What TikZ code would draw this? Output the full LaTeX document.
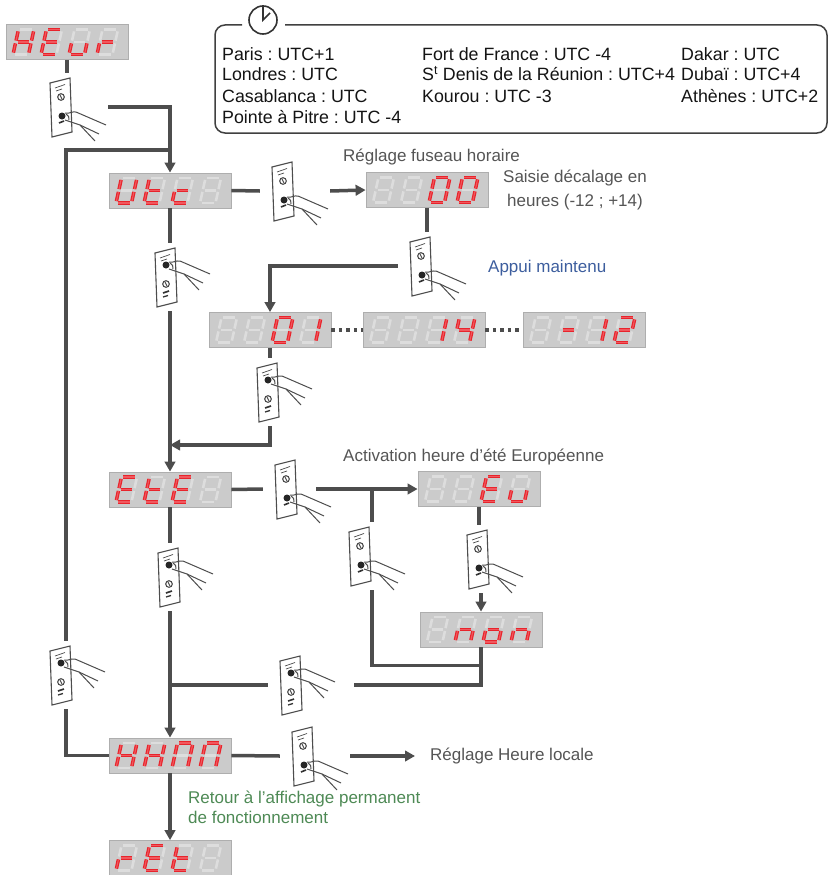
\documentclass[tikz,border=0pt]{standalone}
\usepackage{fontspec}
\setmainfont{Liberation Sans}
\usetikzlibrary{arrows.meta,calc}
\frenchspacing
\definecolor{ln}{HTML}{4D4D4D}
\definecolor{segred}{HTML}{E8242C}
\definecolor{segpink}{HTML}{F0585E}
\definecolor{boxg}{HTML}{CBCBCB}
\definecolor{boxb}{HTML}{AEAEAE}
\definecolor{segg}{HTML}{DDDDDD}
\definecolor{annot}{HTML}{555555}
\definecolor{blu}{HTML}{3D5E9E}
\definecolor{grn}{HTML}{4E8A55}
\tikzset{
 conn/.style={draw=ln, line width=3.5pt},
 arr/.style={conn, -{Triangle[length=10pt,width=10.5pt]}},
 dispbox/.style={draw=boxb, fill=boxg, line width=0.8pt, minimum width=122pt, minimum height=35pt, inner sep=0pt},
 keybox/.style={minimum width=70pt, minimum height=68pt, inner sep=0pt},
 segon/.style={draw=segred, line width=1.2pt, double=segpink, double distance=1.1pt},
 segoff/.style={draw=segg, line width=2.6pt},
 ann/.style={font=\fontsize{17}{24}\selectfont, text=annot, inner sep=0pt},
 tz/.style={font=\fontsize{17.8}{20.5}\selectfont, text=black!92, inner sep=0pt, anchor=base west},
 thin line/.style={draw=ln, line width=1pt},
}
\newcommand\segA[1]{\draw[#1] (1.9,-25)--(13.6,-25);}
\newcommand\segB[1]{\draw[#1] (15.5,-23.1)--(15.5,-13.9);}
\newcommand\segC[1]{\draw[#1] (15.5,-11.1)--(15.5,-1.9);}
\newcommand\segD[1]{\draw[#1] (1.9,0)--(13.6,0);}
\newcommand\segE[1]{\draw[#1] (0,-11.1)--(0,-1.9);}
\newcommand\segF[1]{\draw[#1] (0,-23.1)--(0,-13.9);}
\newcommand\segG[1]{\draw[#1] (1.9,-12.5)--(13.6,-12.5);}
\newcommand\segN[1]{}
\newcommand\sevdig[3]{%
 \begin{scope}[shift={(#1,#2)},xslant=0.22]
  \foreach \q in {A,B,C,D,E,F,G}{\csname seg\q\endcsname{segoff}}
  \foreach \q in {#3}{\csname seg\q\endcsname{segon}}
 \end{scope}}
\newcommand\disp[7]{%
 \node[dispbox] (#1) at (#2,#3) {};
 \sevdig{#2-54}{#3+12.5}{#4}
 \sevdig{#2-26}{#3+12.5}{#5}
 \sevdig{#2+2}{#3+12.5}{#6}
 \sevdig{#2+30}{#3+12.5}{#7}}
\newcommand\cardbase{%
 \draw[draw=ln, fill=white, line width=1.1pt] (0,5) -- (20,0) -- (22,54) -- (2,59) -- cycle;
 \draw[thin line, line width=0.7pt] (5,10) -- (15,6.5) (6,13) -- (12,11);}
\tikzset{
 enterkey/.pic={
  \cardbase
  \draw[thin line, line width=1.1pt] (11,19) circle (3.3);
  \draw[thin line] (10,17) -- (12,21);
  \fill[black!85] (12,38) circle (3.5);
  \draw[draw=black!80, line width=1.6pt] (9,45) -- (14,43);
  \draw[thin line] (15,35) to[out=-15,in=170] (26,34) -- (56,47);
  \draw[thin line] (15,42) -- (30,47) -- (45,63);
  \draw[thin line] (16,36) to[bend left=40] (19,42);
  \draw[thin line] (30,47) -- (49,56);
 },
 downkey/.pic={
  \cardbase
  \fill[black!85] (11,17) circle (3.5);
  \draw[thin line] (14,14) to[out=-15,in=170] (25,13) -- (55,26);
  \draw[thin line] (14,21) -- (29,26) -- (44,42);
  \draw[thin line] (15,15) to[bend left=40] (18,21);
  \draw[thin line] (29,26) -- (48,35);
  \draw[thin line, line width=1.1pt] (11,36) circle (3.3);
  \draw[thin line] (10,34) -- (12,38);
  \draw[draw=black!80, line width=1.6pt] (8,45) -- (14,43);
  \draw[draw=black!80, line width=1.3pt] (8,49) -- (13,47.5);
 }
}
\begin{document}
\begin{tikzpicture}[x=1pt,y=-1pt]
\fill[white] (0,0) rectangle (830,875);
\useasboundingbox (0,0) rectangle (830,875);

% ---------- time zone box ----------
\draw[draw=black!75, line width=1.5pt, rounded corners=10pt]
  (285,25) -- (827,25) -- (827,133) -- (215,133) -- (215,25) -- (242,25);
\node[circle, draw=black!80, line width=1.6pt, minimum size=28pt, inner sep=0pt] (clk) at (263,20) {};
\draw[draw=black!80, line width=1.6pt] (clk.north) -- (clk.center) -- (270,13);
\node[tz] (p1) at (222,60) {Paris : UTC+1};
\node[tz] (p2) at (222,81) {Londres : UTC};
\node[tz] (p3) at (222,102) {Casablanca : UTC};
\node[tz] (p4) at (222,123) {Pointe à Pitre : UTC -4};
\node[tz] (q1) at (422,60) {Fort de France : UTC -4};
\node[tz] (q2) at (422,81) {S\textsuperscript{t} Denis de la Réunion : UTC+4};
\node[tz] (q3) at (422,102) {Kourou : UTC -3};
\node[tz] (r1) at (681,60) {Dakar : UTC};
\node[tz] (r2) at (681,81) {Dubaï : UTC+4};
\node[tz] (r3) at (681,102) {Athènes : UTC+2};

% ---------- displays ----------
\disp{heur}{67}{42}{B,C,E,F,G}{A,D,E,F,G}{C,D,E}{E,G}
\disp{utc}{170}{190.5}{B,C,D,E,F}{D,E,F,G}{D,E,G}{N}
\disp{zero}{427}{190}{N}{N}{A,B,C,D,E,F}{A,B,C,D,E,F}
\disp{d01}{270}{330}{N}{N}{A,B,C,D,E,F}{B,C}
\disp{d14}{424}{330}{N}{N}{B,C}{B,C,F,G}
\disp{dm12}{584}{330}{N}{G}{B,C}{A,B,D,E,G}
\disp{ete}{170}{489.5}{A,D,E,F,G}{D,E,F,G}{A,D,E,F,G}{N}
\disp{eu}{479}{489}{N}{N}{A,D,E,F,G}{C,D,E}
\disp{non}{481}{629.5}{N}{C,E,G}{C,D,E,G}{C,E,G}
\disp{hhmm}{170}{755.5}{B,C,E,F,G}{B,C,E,F,G}{A,B,C,E,F}{A,B,C,E,F}
\disp{ret}{170}{858}{E,G}{A,D,E,F,G}{D,E,F,G}{N}

% ---------- keys ----------
\node[keybox] (k0) at (73,107) {};  \pic at ($(k0.center)+(-23,-29)$) {enterkey};
\node[keybox] (k1) at (295,191) {}; \pic at ($(k1.center)+(-23,-29)$) {enterkey};
\node[keybox] (k2) at (433,266) {}; \pic at ($(k2.center)+(-23,-29)$) {enterkey};
\node[keybox] (kU) at (178,277) {}; \pic at ($(kU.center)+(-23,-29)$) {downkey};
\node[keybox] (k3) at (280,392) {}; \pic at ($(k3.center)+(-23,-29)$) {downkey};
\node[keybox] (kE) at (298,489) {}; \pic at ($(kE.center)+(-23,-29)$) {enterkey};
\node[keybox] (kJ) at (372,556) {}; \pic at ($(kJ.center)+(-23,-29)$) {enterkey};
\node[keybox] (kEu) at (490,559) {}; \pic at ($(kEu.center)+(-23,-29)$) {enterkey};
\node[keybox] (kT) at (181,577) {}; \pic at ($(kT.center)+(-23,-29)$) {downkey};
\node[keybox] (kL) at (73,675) {};  \pic at ($(kL.center)+(-23,-29)$) {downkey};
\node[keybox] (kH) at (303,685) {}; \pic at ($(kH.center)+(-23,-29)$) {downkey};
\node[keybox] (kM) at (315,756) {}; \pic at ($(kM.center)+(-23,-29)$) {enterkey};

\coordinate (lc) at (66,150);
\coordinate (j1) at (170,445);

% ---------- texts ----------
\node[ann, anchor=west] (t1) at (343,157) {Réglage fuseau horaire};
\node[ann, align=center] (t2) at (575,190) {Saisie décalage en\\heures (-12 ; +14)};
\node[ann, anchor=west, text=blu] (t3) at (488,268) {Appui maintenu};
\node[ann, anchor=west] (t4) at (343,457) {Activation heure d’été Européenne};
\node[ann, anchor=west] (rhl) at (430,756) {Réglage Heure locale};
\node[ann, anchor=west, align=left, text=grn, font=\fontsize{17}{20}\selectfont] (t5) at (188,807) {Retour à l’affichage permanent\\de fonctionnement};

% ---------- connectors ----------
\draw[conn] (heur.south) -- (heur.south |- k0.north);
\draw[arr] (k0.east) -| (utc.north);
\draw[conn] (hhmm.west) -| (lc |- kL.south);
\draw[conn] (lc |- kL.north) -- (lc) -- (utc.north |- lc);
\draw[conn] (utc.east) -- (k1.west);
\draw[arr] (k1.east) -- (zero.west);
\draw[conn] (zero.south) -- (zero.south |- k2.north);
\draw[arr] (k2.west) -| (d01.north);
\draw[draw=ln, line width=3.5pt, dash pattern=on 3.5pt off 4pt] (d01.east) -- (d14.west);
\draw[draw=ln, line width=3.5pt, dash pattern=on 3.5pt off 4pt] (d14.east) -- (dm12.west);
\draw[conn] (d01.south) -- (d01.south |- k3.north);
\draw[arr] (d01.south |- k3.south) |- (j1);
\draw[conn] (utc.south) -- (utc.south |- kU.north);
\draw[arr] (utc.south |- kU.south) -- (ete.north);
\draw[conn] (ete.east) -- (kE.west);
\draw[arr] ([xshift=-17pt]kE.east) -- (eu.west);
\draw[conn] (kJ.north) -- (kJ.north |- eu.west);
\draw[conn] (kJ.south) |- ($(non.south)+(0,18)$);
\draw[conn] (non.south) |- ([xshift=16pt]kH.east);
\draw[conn] (kH.west) -- (kH.west -| ete.south);
\draw[conn] (eu.south) -- (eu.south |- kEu.north);
\draw[arr] (non.north |- kEu.south) -- (non.north);
\draw[conn] (ete.south) -- (ete.south |- kT.north);
\draw[arr] (ete.south |- kT.south) -- (hhmm.north);
\draw[conn] (hhmm.east) -- (kM.west);
\draw[arr] (kM.east) -- ([xshift=-15pt]rhl.west);
\draw[arr] (hhmm.south) -- (ret.north);
\end{tikzpicture}
\end{document}
